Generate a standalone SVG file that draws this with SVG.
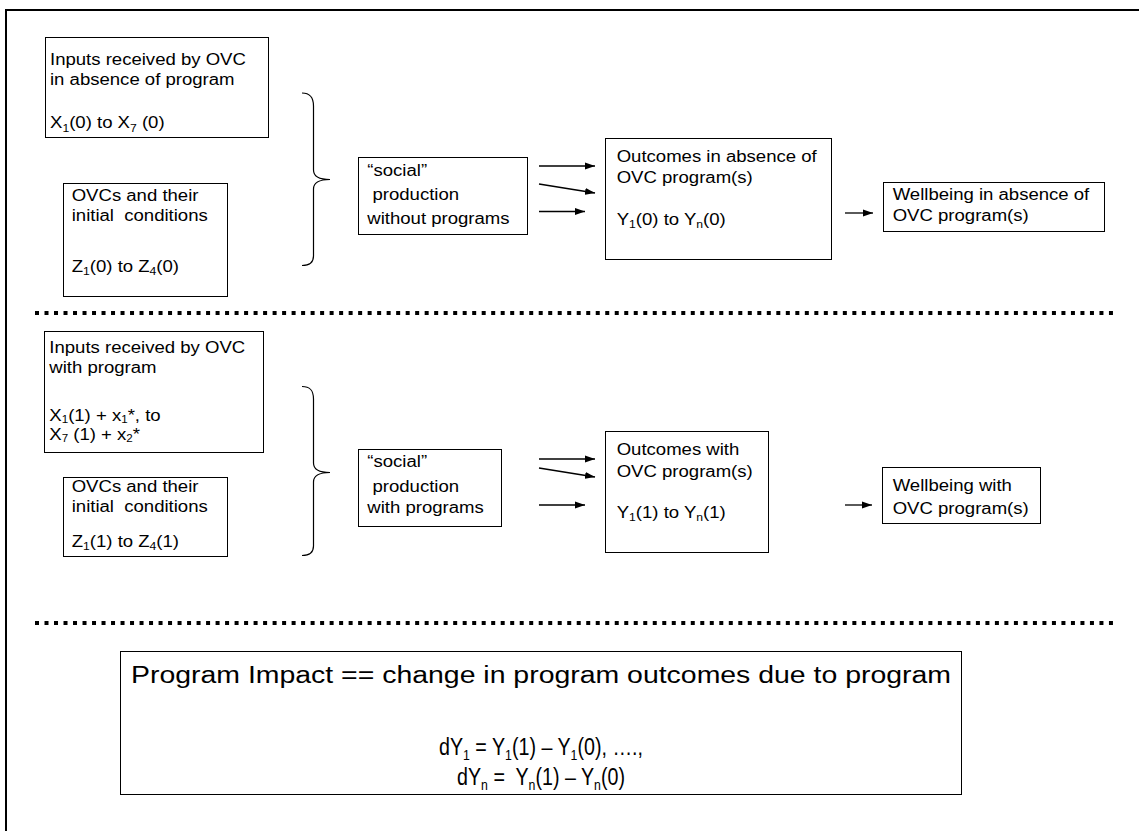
<svg xmlns="http://www.w3.org/2000/svg" width="1139" height="831" viewBox="0 0 1139 831">
<style>
text{font-family:"Liberation Sans",Arial,sans-serif;fill:#000;}
.t{font-size:16px;}
.sub{font-size:10.5px;}
.sub2{font-size:10px;}
.eq{font-size:24px;}
.esub{font-size:15px;}
.box{fill:#fff;stroke:#000;stroke-width:1;}
.frame{stroke:#000;stroke-width:2;fill:none;}
.dots{stroke:#000;stroke-width:4;stroke-dasharray:4 5.504;fill:none;}
.arr{stroke:#000;stroke-width:1.3;fill:none;marker-end:url(#ah);}
.brace{stroke:#000;stroke-width:1.2;fill:none;}
</style>
<defs>
<marker id="ah" markerWidth="10" markerHeight="8" refX="10" refY="4" orient="auto" markerUnits="userSpaceOnUse"><path d="M0,0.5 L10,4 L0,7.5 z" fill="#000"/></marker>
</defs>
<rect width="1139" height="831" fill="#fff"/>
<g id="frame">
<path class="frame" d="M6,831 V10 H1139"/>
<path class="dots" d="M35,313 H1113"/>
<path class="dots" d="M35,623 H1113"/>
</g>
<g id="braces">
<path class="brace" d="M302,93 C310,93 313.5,97 313.5,106 L313.5,170 C313.5,176 318,179.5 330,179.5 C318,179.5 313.5,183 313.5,189 L313.5,256 C313.5,262 310,265.5 302,265.5"/>
<path class="brace" d="M302,386.5 C310,386.5 313.5,390 313.5,399 L313.5,463 C313.5,469 318,472.5 330,472.5 C318,472.5 313.5,476 313.5,482 L313.5,546 C313.5,552 310,555.5 302,555.5"/>
</g>
<g id="connectors">
<path class="arr" d="M539,166 H595"/>
<path class="arr" d="M539,184 L595,193"/>
<path class="arr" d="M539,211.5 H585"/>
<path class="arr" d="M845,213 H873"/>
<path class="arr" d="M539,459 H595"/>
<path class="arr" d="M539,468 L595,477"/>
<path class="arr" d="M539,505 H585"/>
<path class="arr" d="M845,505 H872"/>
</g>
<g id="inputs0">
<rect class="box" x="45.5" y="37.5" width="223" height="100"/>
<text class="t" transform="translate(50 0) scale(1.16 1)" xml:space="preserve"><tspan x="0" y="65.5">Inputs received by OVC</tspan><tspan x="0" y="85">in absence of program</tspan><tspan x="0" y="128.5">X<tspan class="sub" dy="3.5">1</tspan><tspan dy="-3.5">(0) to X</tspan><tspan class="sub" dy="3.5">7</tspan><tspan dy="-3.5"> (0)</tspan></tspan></text>
</g>
<g id="ovc0">
<rect class="box" x="63.5" y="183.5" width="164" height="113"/>
<text class="t" transform="translate(71.7 0) scale(1.16 1)" xml:space="preserve"><tspan x="0" y="201">OVCs and their</tspan><tspan x="0" y="220.7">initial  conditions</tspan><tspan x="0" y="271.7">Z<tspan class="sub" dy="3.5">1</tspan><tspan dy="-3.5">(0) to Z</tspan><tspan class="sub" dy="3.5">4</tspan><tspan dy="-3.5">(0)</tspan></tspan></text>
</g>
<g id="social0">
<rect class="box" x="358.5" y="157.5" width="169" height="77"/>
<text class="t" transform="translate(367.3 0) scale(1.16 1)" xml:space="preserve"><tspan x="0" y="176">“social”</tspan><tspan x="0" y="200"> production</tspan><tspan x="0" y="224">without programs</tspan></text>
</g>
<g id="outcomes0">
<rect class="box" x="605.5" y="138.5" width="226" height="121"/>
<text class="t" transform="translate(616.7 0) scale(1.16 1)" xml:space="preserve"><tspan x="0" y="161.7">Outcomes in absence of</tspan><tspan x="0" y="183">OVC program(s)</tspan><tspan x="0" y="225">Y<tspan class="sub" dy="3.5">1</tspan><tspan dy="-3.5">(0) to Y</tspan><tspan class="sub" dy="3.5">n</tspan><tspan dy="-3.5">(0)</tspan></tspan></text>
</g>
<g id="wellbeing0">
<rect class="box" x="883.5" y="182.5" width="221" height="49"/>
<text class="t" transform="translate(892.7 0) scale(1.16 1)" xml:space="preserve"><tspan x="0" y="200">Wellbeing in absence of</tspan><tspan x="0" y="220.7">OVC program(s)</tspan></text>
</g>
<g id="inputs1">
<rect class="box" x="44.5" y="331.5" width="219" height="121"/>
<text class="t" transform="translate(49.3 0) scale(1.16 1)" xml:space="preserve"><tspan x="0" y="353">Inputs received by OVC</tspan><tspan x="0" y="373">with program</tspan><tspan x="0" y="421">X<tspan class="sub2" dy="2.5">1</tspan><tspan dy="-2.5">(1) + x</tspan><tspan class="sub2" dy="2.5">1</tspan><tspan dy="-2.5">*, to</tspan></tspan><tspan x="0" y="440">X<tspan class="sub2" dy="2.5">7</tspan><tspan dy="-2.5"> (1) + x</tspan><tspan class="sub2" dy="2.5">2</tspan><tspan dy="-2.5">*</tspan></tspan></text>
</g>
<g id="ovc1">
<rect class="box" x="63.5" y="477.5" width="164" height="79"/>
<text class="t" transform="translate(71.7 0) scale(1.16 1)" xml:space="preserve"><tspan x="0" y="492">OVCs and their</tspan><tspan x="0" y="511.7">initial  conditions</tspan><tspan x="0" y="546.7">Z<tspan class="sub" dy="3.5">1</tspan><tspan dy="-3.5">(1) to Z</tspan><tspan class="sub" dy="3.5">4</tspan><tspan dy="-3.5">(1)</tspan></tspan></text>
</g>
<g id="social1">
<rect class="box" x="358.5" y="449.5" width="143" height="77"/>
<text class="t" transform="translate(367.3 0) scale(1.16 1)" xml:space="preserve"><tspan x="0" y="467">“social”</tspan><tspan x="0" y="491.7"> production</tspan><tspan x="0" y="513">with programs</tspan></text>
</g>
<g id="outcomes1">
<rect class="box" x="605.5" y="431.5" width="163" height="121"/>
<text class="t" transform="translate(616.7 0) scale(1.16 1)" xml:space="preserve"><tspan x="0" y="455">Outcomes with</tspan><tspan x="0" y="476.7">OVC program(s)</tspan><tspan x="0" y="518">Y<tspan class="sub" dy="3.5">1</tspan><tspan dy="-3.5">(1) to Y</tspan><tspan class="sub" dy="3.5">n</tspan><tspan dy="-3.5">(1)</tspan></tspan></text>
</g>
<g id="wellbeing1">
<rect class="box" x="882.5" y="467.5" width="158" height="56"/>
<text class="t" transform="translate(892.7 0) scale(1.16 1)" xml:space="preserve"><tspan x="0" y="491">Wellbeing with</tspan><tspan x="0" y="514">OVC program(s)</tspan></text>
</g>
<g id="impact">
<rect class="box" x="120.5" y="651.5" width="841" height="143"/>
<text x="541" y="683" text-anchor="middle" font-size="23" textLength="820" lengthAdjust="spacingAndGlyphs">Program Impact == change in program outcomes due to program</text>
<text class="eq" transform="translate(541 755) scale(0.82 1)" text-anchor="middle" xml:space="preserve">dY<tspan class="esub" dy="5">1</tspan><tspan dy="-5"> = Y</tspan><tspan class="esub" dy="5">1</tspan><tspan dy="-5">(1) – Y</tspan><tspan class="esub" dy="5">1</tspan><tspan dy="-5">(0), ….,</tspan></text>
<text class="eq" transform="translate(541 785) scale(0.82 1)" text-anchor="middle" xml:space="preserve">dY<tspan class="esub" dy="5">n</tspan><tspan dy="-5"> =  Y</tspan><tspan class="esub" dy="5">n</tspan><tspan dy="-5">(1) – Y</tspan><tspan class="esub" dy="5">n</tspan><tspan dy="-5">(0)</tspan></text>
</g>
</svg>
